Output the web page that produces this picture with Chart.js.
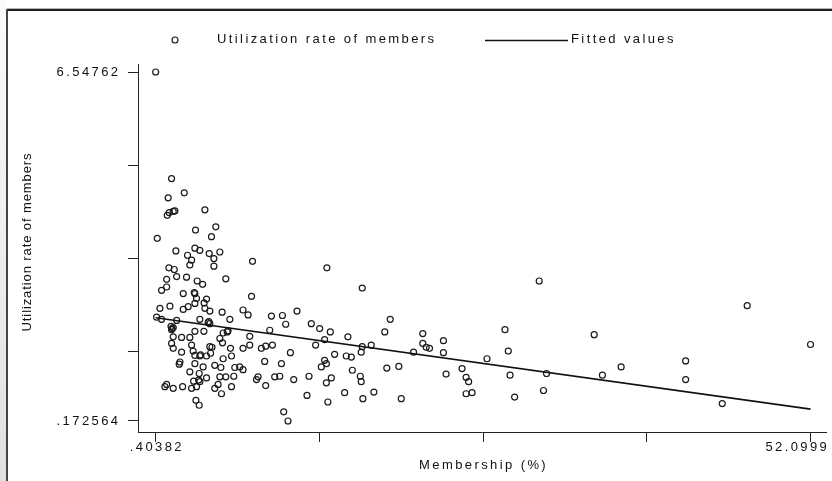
<!DOCTYPE html>
<html>
<head>
<meta charset="utf-8">
<title>Utilization rate of members vs membership</title>
<script src="https://cdn.jsdelivr.net/npm/chart.js@4.4.1/dist/chart.umd.min.js"></script>
<style>
  html, body { margin: 0; padding: 0; background: #fff; }
  canvas { display: block; }
</style>
</head>
<body>
<canvas id="scatterChart" width="832" height="481"></canvas>
<script>
// membership share (%) of each unit
const membership = [
  0.40382, 1.66, 1.39, 2.66, 1.32, 1.47, 1.79, 1.92, 4.29, 3.55,
  5.15, 0.53, 4.81, 2.00, 2.92, 3.50, 3.89, 3.24, 3.10, 4.63,
  5.47, 5.00, 5.00, 8.05, 1.45, 1.87, 1.27, 2.06, 2.84, 3.68,
  4.11, 5.94, 0.87, 1.27, 2.58, 3.50, 3.63, 4.42, 7.97, 13.92,
  16.71, 0.74, 1.53, 2.58, 2.97, 3.50, 4.23, 4.29, 4.68, 5.65,
  7.30, 7.70, 9.54, 10.41, 11.56, 10.67, 12.69, 13.35, 14.19, 18.92,
  18.49, 21.49, 0.48, 0.87, 2.06, 3.89, 4.55, 4.68, 6.26, 1.79,
  1.66, 3.50, 4.21, 5.73, 6.12, 9.41, 7.83, 1.79, 2.45, 3.10,
  5.47, 1.66, 1.79, 3.24, 4.68, 5.68, 6.31, 7.30, 7.83, 8.75,
  9.09, 9.62, 11.04, 13.03, 13.74, 15.58, 16.71, 17.42, 20.76, 21.49,
  21.76, 2.45, 3.36, 4.74, 2.32, 2.26, 3.50, 3.89, 4.42, 5.73,
  6.39, 3.50, 4.15, 5.07, 5.55, 6.65, 7.04, 7.30, 9.01, 10.33,
  13.74, 14.53, 15.45, 15.85, 16.63, 13.48, 13.88, 15.93, 18.65, 19.60,
  3.10, 3.84, 4.42, 5.47, 5.94, 6.57, 8.49, 8.36, 9.80, 10.20,
  11.30, 12.51, 14.27, 13.88, 16.56, 16.63, 1.27, 1.13, 1.79, 2.53,
  3.24, 3.63, 3.89, 5.33, 5.07, 6.39, 9.09, 5.60, 3.58, 3.84,
  12.35, 14.00, 15.32, 16.76, 17.63, 19.79, 10.51, 10.85, 22.02, 30.68,
  47.10, 27.98, 23.12, 23.12, 28.24, 26.56, 35.02, 52.0999, 42.24, 24.59,
  23.33, 24.91, 25.11, 24.91, 25.38, 28.38, 31.26, 35.67, 37.15, 42.24,
  31.02, 28.74, 45.13, 1.70, 3.45, 3.95, 3.80, 6.05, 4.60, 1.62,
  3.40, 4.85
];
// utilization rate of members, same order as membership
const utilization = [
  6.54762, 4.60, 4.25, 4.34, 3.93, 3.98, 4.00, 4.01, 4.03, 3.66,
  3.72, 3.51, 3.54, 3.28, 3.20, 3.33, 3.29, 3.11, 3.02, 3.23,
  3.26, 3.14, 3.00, 3.09, 2.97, 2.94, 2.76, 2.81, 2.80, 2.73,
  2.67, 2.77, 2.56, 2.62, 2.50, 2.50, 2.41, 2.40, 2.45, 2.97,
  2.60, 2.23, 2.27, 2.21, 2.26, 2.32, 2.33, 2.23, 2.18, 2.16,
  2.20, 2.11, 2.09, 2.10, 2.18, 1.94, 1.95, 1.86, 1.80, 2.03,
  1.80, 1.77, 2.07, 2.03, 2.01, 2.03, 1.97, 1.95, 2.03, 1.88,
  1.84, 1.81, 1.81, 1.78, 1.82, 1.83, 1.72, 1.71, 1.70, 1.70,
  1.68, 1.59, 1.50, 1.56, 1.53, 1.60, 1.50, 1.50, 1.56, 1.50,
  1.54, 1.56, 1.42, 1.56, 1.66, 1.71, 1.53, 1.56, 1.43, 1.59,
  1.52, 1.43, 1.45, 1.41, 1.25, 1.21, 1.37, 1.36, 1.36, 1.31,
  1.36, 1.22, 1.16, 1.19, 1.15, 1.15, 1.16, 1.11, 1.26, 1.22,
  1.28, 1.39, 1.36, 1.34, 1.43, 1.16, 1.22, 1.10, 1.14, 1.17,
  1.07, 1.04, 0.96, 0.98, 0.98, 0.99, 0.98, 0.93, 0.98, 0.99,
  0.93, 0.99, 0.96, 0.87, 0.99, 0.89, 0.84, 0.80, 0.77, 0.80,
  0.77, 0.80, 0.89, 0.84, 0.77, 0.80, 0.82, 0.67, 0.55, 0.46,
  0.64, 0.52, 0.69, 0.58, 0.70, 0.58, 0.34, 0.172564, 1.50, 2.73,
  2.28, 1.84, 1.64, 1.42, 1.45, 1.31, 1.75, 1.57, 1.27, 1.13,
  1.03, 0.97, 0.89, 0.67, 0.69, 1.01, 1.04, 1.01, 1.16, 0.93,
  0.73, 0.61, 0.49, 1.86, 2.52, 1.38, 0.92, 1.80, 1.99, 1.90,
  0.90, 1.52
];
// fitted regression line, drawn between its two end points
const fitX = [0.40382, 52.0999];
const fitY = [2.06, 0.39];

// axis ticks: only the extremes carry a label
const xTicks = [0.40382, 13.32784, 26.25186, 39.17588, 52.0999];
const xTickLabels = ['.40382', '', '', '', '52.0999'];
const yTicks = [0.172564, 1.44762, 3.14762, 4.84762, 6.54762];
const yTickLabels = ['.172564', '', '', '', '6.54762'];
const xRange = [-0.991, 53.384];
const yRange = [-0.0284, 6.6938];

const FONT = '13px "Liberation Sans", Arial, sans-serif';
const INK = '#111';
const SPACING = 2.4;

// frame, legend, tick labels and axis titles
const stataText = {
  id: 'stataText',
  beforeDraw(chart) {
    const ctx = chart.ctx;
    const w = chart.width, h = chart.height;
    ctx.save();
    ctx.fillStyle = '#fff';
    ctx.fillRect(0, 0, w, h);
    const g = ctx.createLinearGradient(0, 0, 0, h);
    g.addColorStop(0, '#fbfbfb');
    g.addColorStop(1, '#e0e0e0');
    ctx.fillStyle = g;
    ctx.fillRect(0, 0, 6, h);
    ctx.fillStyle = '#b5b5b5';
    ctx.fillRect(7, 8, w - 7, 1);
    ctx.fillStyle = '#222';
    ctx.fillRect(7, 9, w - 7, 2);
    ctx.fillStyle = '#444';
    ctx.fillRect(6, 9, 2, h - 9);
    ctx.restore();
  },
  afterDraw(chart) {
    const {ctx, chartArea} = chart;
    const xs = chart.scales.x, ys = chart.scales.y;
    ctx.save();
    ctx.fillStyle = INK;
    ctx.strokeStyle = INK;
    ctx.font = FONT;
    ctx.letterSpacing = SPACING + 'px';
    ctx.textBaseline = 'middle';

    // y tick labels
    ctx.textAlign = 'right';
    yTicks.forEach((v, i) => {
      if (yTickLabels[i]) ctx.fillText(yTickLabels[i], chartArea.left - 20 + SPACING, ys.getPixelForValue(v));
    });

    // x tick labels, kept inside the axis at the right end
    ctx.textAlign = 'left';
    xTicks.forEach((v, i) => {
      const t = xTickLabels[i];
      if (!t) return;
      const tw = ctx.measureText(t).width - SPACING;
      let px = xs.getPixelForValue(v) - tw / 2;
      px = Math.min(px, xs.right - tw);
      ctx.fillText(t, px, 447);
    });

    // x title
    ctx.textAlign = 'center';
    ctx.fillText('Membership (%)', (chartArea.left + chartArea.right) / 2 + SPACING / 2, 465);

    // legend
    ctx.textAlign = 'left';
    ctx.lineWidth = 1.1;
    ctx.beginPath();
    ctx.arc(175, 40, 3, 0, Math.PI * 2);
    ctx.stroke();
    ctx.fillText('Utilization rate of members', 217, 39);
    ctx.lineWidth = 1.6;
    ctx.beginPath();
    ctx.moveTo(485, 40.5);
    ctx.lineTo(568, 40.5);
    ctx.stroke();
    ctx.fillText('Fitted values', 571, 39);

    // y title
    ctx.letterSpacing = '0.9px';
    ctx.translate(30.5, (chartArea.top + chartArea.bottom) / 2 - 6);
    ctx.rotate(-Math.PI / 2);
    ctx.textAlign = 'center';
    ctx.textBaseline = 'alphabetic';
    ctx.fillText('Utilization rate of members', 0, 0);
    ctx.restore();
  }
};

const axisStyle = {
  ticks: { display: false },
  grid: { drawOnChartArea: false, drawTicks: true, tickLength: 10, color: '#222', lineWidth: 1 },
  border: { display: true, color: '#222', width: 1 }
};

new Chart(document.getElementById('scatterChart'), {
  type: 'scatter',
  data: {
    datasets: [
      {
        label: 'Fitted values',
        type: 'line',
        data: fitX.map((v, i) => ({ x: v, y: fitY[i] })),
        borderColor: INK,
        borderWidth: 1.6,
        pointRadius: 0,
        fill: false,
        tension: 0
      },
      {
        label: 'Utilization rate of members',
        data: membership.map((v, i) => ({ x: v, y: utilization[i] })),
        pointStyle: 'circle',
        pointRadius: 3,
        borderColor: '#1a1a1a',
        borderWidth: 1.2,
        backgroundColor: 'rgba(0,0,0,0)'
      }
    ]
  },
  options: {
    responsive: false,
    animation: false,
    events: [],
    layout: { padding: { top: 64, right: 4, left: 0, bottom: 0 } },
    plugins: {
      legend: { display: false },
      tooltip: { enabled: false }
    },
    scales: {
      x: Object.assign({
        type: 'linear',
        position: 'bottom',
        min: xRange[0],
        max: xRange[1],
        afterBuildTicks: s => { s.ticks = xTicks.map(v => ({ value: v })); },
        afterFit: s => { s.height = 49; }
      }, axisStyle),
      y: Object.assign({
        type: 'linear',
        position: 'left',
        min: yRange[0],
        max: yRange[1],
        afterBuildTicks: s => { s.ticks = yTicks.map(v => ({ value: v })); },
        afterFit: s => { s.width = 138; }
      }, axisStyle)
    }
  },
  plugins: [stataText]
});
</script>
</body>
</html>
